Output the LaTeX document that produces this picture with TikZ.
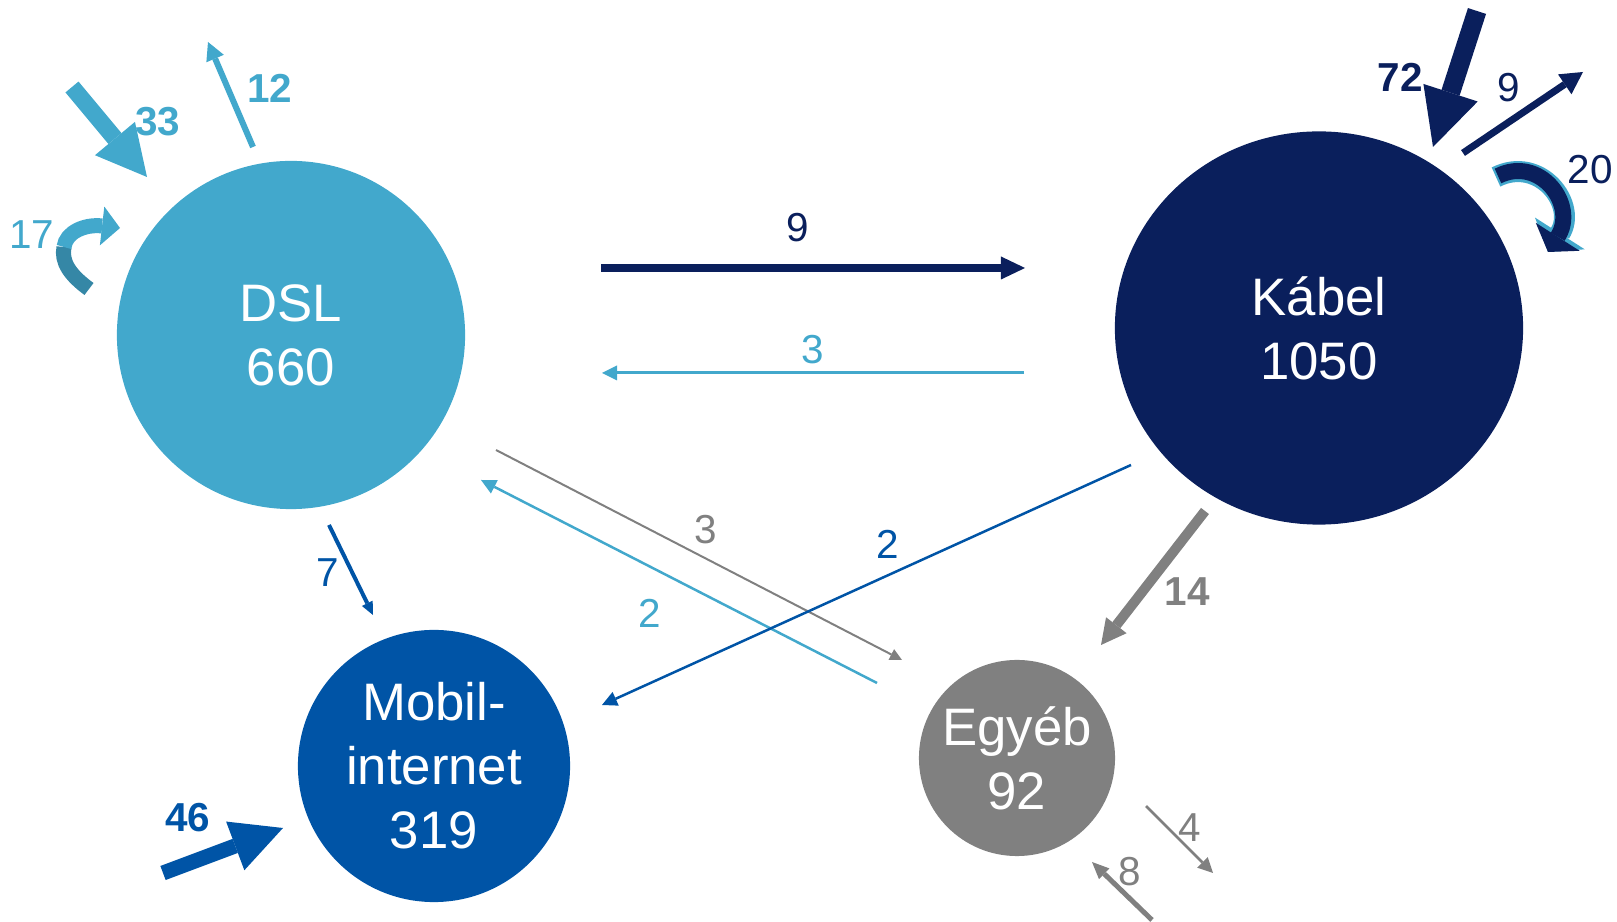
\documentclass[tikz,border=0pt]{standalone}
\usepackage{fontspec}
\setmainfont{Liberation Sans}
\usetikzlibrary{arrows.meta,shapes.geometric}

\definecolor{dslkek}{RGB}{66,168,204}
\definecolor{dslsotet}{RGB}{53,135,166}
\definecolor{kabelkek}{RGB}{10,31,92}
\definecolor{mobilkek}{RGB}{0,84,166}
\definecolor{egyebszurke}{RGB}{128,128,128}

\tikzset{
  kor/.style={circle, inner sep=0pt, text=white, align=center, font=\fontsize{15}{18.2}\selectfont},
  szam/.style={font=\fontsize{11.5}{13}\selectfont},
  vszam/.style={font=\fontsize{11.5}{13}\selectfont\bfseries},
  nyil/.style n args={3}{line width=#1, -{Triangle[width=#2,length=#3,line width=0pt]}}
}

\begin{document}
\begin{tikzpicture}[x=0.01cm, y=-0.01cm]
    \useasboundingbox (0,0) rectangle (1617,922);

    % Körök
    \node[kor, fill=dslkek, minimum size=3.48cm] (dsl) at (291,335) {DSL\\660};
    \node[kor, ellipse, fill=kabelkek, minimum width=4.08cm, minimum height=3.93cm] (kabel) at (1319,328) {Kábel\\1050};
    \node[kor, fill=mobilkek, minimum size=2.72cm] (mobil) at (434,766) {Mobil-\\internet\\319};
    \node[kor, fill=egyebszurke, minimum size=1.96cm] (egyeb) at (1017,758) {Egyéb\\92};

    % Végpontok
    \coordinate (dk1) at (601,268);   \coordinate (dk2) at (1025,268);
    \coordinate (kd1) at (1024,373);  \coordinate (kd2) at (602,373);
    \coordinate (de1) at (496,450);   \coordinate (de2) at (902,660);
    \coordinate (ed1) at (877,683);   \coordinate (ed2) at (481,480);
    \coordinate (km1) at (1131,465);  \coordinate (km2) at (602,705);
    \coordinate (dm1) at (329,525);   \coordinate (dm2) at (373,615);
    \coordinate (ke1) at (1205,511);  \coordinate (ke2) at (1101,645);

    % Áramlások a körök között
    \draw[kabelkek, nyil={.08cm}{.23cm}{.24cm}] (dk1) -- (dk2);
    \node[szam, text=kabelkek] (n9) at (798,228) {9};
    \draw[dslkek, nyil={.03cm}{.15cm}{.15cm}] (kd1) -- (kd2);
    \node[szam, text=dslkek] (n3a) at (813,350) {3};
    \draw[egyebszurke, nyil={.02cm}{.12cm}{.12cm}] (de1) -- (de2);
    \node[szam, text=egyebszurke] (n3b) at (706,530) {3};
    \draw[dslkek, nyil={.025cm}{.15cm}{.15cm}] (ed1) -- (ed2);
    \node[szam, text=dslkek] (n2a) at (650,613) {2};
    \draw[mobilkek, nyil={.025cm}{.15cm}{.15cm}] (km1) -- (km2);
    \node[szam, text=mobilkek] (n2b) at (888,544) {2};
    \draw[mobilkek, nyil={.04cm}{.12cm}{.13cm}] (dm1) -- (dm2);
    \node[szam, text=mobilkek] (n7) at (328,573) {7};
    \draw[egyebszurke, nyil={.1cm}{.26cm}{.25cm}] (ke1) -- (ke2);
    \node[vszam, text=egyebszurke] (n14) at (1187,592) {14};

    % DSL be / ki
    \coordinate (db1) at (72,87);     \coordinate (db2) at (147,177);
    \coordinate (dx1) at (253,147);   \coordinate (dx2) at (208,42);
    \draw[dslkek, nyil={.17cm}{.52cm}{.5cm}] (db1) -- (db2);
    \node[vszam, text=dslkek] (n33) at (158,122) {33};
    \draw[dslkek, nyil={.06cm}{.19cm}{.18cm}] (dx1) -- (dx2);
    \node[vszam, text=dslkek] (n12) at (270,88) {12};
    \draw[dslsotet, line width=.15cm] (89,289) .. controls (70,275) and (61,262) .. (64,247);
    \draw[dslkek, nyil={.15cm}{.39cm}{.18cm}] (64,247) .. controls (66,232) and (85,224) .. (120,228);
    \node[szam, text=dslkek] (n17) at (32,235) {17};

    % Kábel be / ki
    \coordinate (kb1) at (1477,11);   \coordinate (kb2) at (1433,147);
    \coordinate (kx1) at (1463,153);  \coordinate (kx2) at (1583,72);
    \draw[kabelkek, nyil={.19cm}{.57cm}{.57cm}] (kb1) -- (kb2);
    \node[vszam, text=kabelkek] (n72) at (1400,77) {72};
    \draw[kabelkek, nyil={.07cm}{.24cm}{.22cm}] (kx1) -- (kx2);
    \node[szam, text=kabelkek] (n9b) at (1509,88) {9};
    \draw[dslkek, nyil={.21cm}{.59cm}{.22cm}] (1496,177) .. controls (1540,155) and (1578,205) .. (1548,252);
    \draw[kabelkek, nyil={.16cm}{.52cm}{.18cm}] (1498,176) .. controls (1540,155) and (1578,205) .. (1548,252);
    \node[szam, text=kabelkek] (n20) at (1590,170) {20};

    % Mobilinternet be
    \coordinate (mb1) at (163,873);   \coordinate (mb2) at (283,828);
    \draw[mobilkek, nyil={.15cm}{.52cm}{.51cm}] (mb1) -- (mb2);
    \node[vszam, text=mobilkek] (n46) at (188,818) {46};

    % Egyéb be / ki
    \coordinate (ex1) at (1146,806);  \coordinate (ex2) at (1213,873);
    \coordinate (eb1) at (1152,920);  \coordinate (eb2) at (1092,862);
    \draw[egyebszurke, nyil={.025cm}{.15cm}{.15cm}] (ex1) -- (ex2);
    \node[szam, text=egyebszurke] (n4) at (1190,828) {4};
    \draw[egyebszurke, nyil={.05cm}{.15cm}{.17cm}] (eb1) -- (eb2);
    \node[szam, text=egyebszurke] (n8) at (1130,872) {8};
\end{tikzpicture}
\end{document}
